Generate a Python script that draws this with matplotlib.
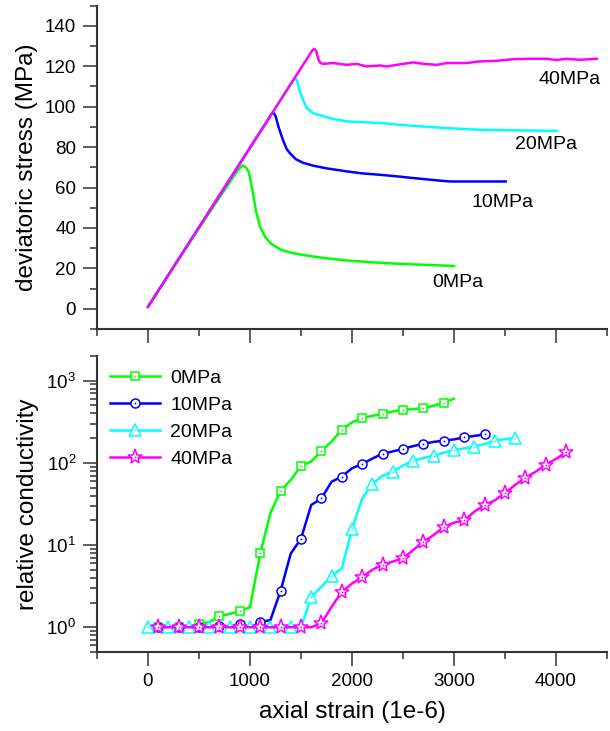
import numpy as np
import matplotlib
matplotlib.use("Agg")
import matplotlib.pyplot as plt
from matplotlib.ticker import MultipleLocator, LogLocator, NullFormatter
from matplotlib.legend_handler import HandlerTuple

plt.rcParams["font.family"] = ["Liberation Sans", "DejaVu Sans"]
plt.rcParams["mathtext.default"] = "regular"

LABELS = ["0MPa", "10MPa", "20MPa", "40MPa"]
COLORS = ["#00ff00", "#0000ff", "#00ffff", "#ff00ff"]
MARKERS = ["s", "o", "^", "*"]
MSIZE = [5.8, 6.5, 8.5, 11]

# ---- stress-strain curves (top) ----
s0_x = [0, 300, 600, 800, 880, 925, 960, 985, 1000, 1030, 1060, 1100, 1150, 1200, 1300,
        1400, 1500, 1700, 1950, 2200, 2450, 2700, 3000]
s0_y = [1, 24.5, 47.5, 62.5, 68.5, 70.9, 70, 68, 65, 57, 48, 40.5, 35.5, 32.5, 29.3,
        27.8, 26.8, 25.3, 23.9, 23, 22.3, 21.8, 21.2]
s10_x = [0, 1180, 1210, 1230, 1250, 1280, 1320, 1360, 1392, 1450, 1523, 1621, 1750, 1948,
         2100, 2275, 2450, 2600, 2863, 2961, 3200, 3507]
s10_y = [1, 93.8, 96.3, 97, 95.5, 90, 84, 79, 77, 74, 72.2, 70.8, 69.5, 68,
         67, 66.3, 65.5, 64.7, 63.4, 63, 63, 63]
s20_x = [0, 1420, 1441, 1460, 1490, 1523, 1556, 1621, 1784, 1948, 2275, 2601, 2928, 3255, 4007]
s20_y = [1, 112.8, 114.2, 113, 107.5, 103, 99.3, 96.8, 94.3, 92.7, 91.9, 90.5, 89.4, 88.6, 88]
s40_x = [0, 1580, 1610, 1630, 1650, 1670, 1690, 1719, 1817, 1948, 2046, 2144, 2275, 2340,
         2438, 2601, 2699, 2830, 2928, 3124, 3255, 3418, 3582, 3745, 3909, 4007, 4105,
         4235, 4399]
s40_y = [1, 125.4, 127.8, 128.6, 127.5, 123.5, 121.6, 121.2, 121.6, 120.7, 121.2, 119.9,
         120.4, 119.9, 120.7, 121.9, 121.2, 120.7, 121.6, 121.6, 122.4, 122.7, 123.5,
         123.7, 123.7, 123.1, 123.7, 123.2, 123.7]
label_pos = [(2784, 12.9), (3176, 52.5), (3598, 81.2), (3824, 113.3)]

# ---- relative conductivity (bottom), every 100 microstrain ----
c0_x = list(range(100, 3100, 100))
c0_y = [1.0, 1.0, 1.0, 1.0, 1.1, 1.15, 1.37, 1.45, 1.58, 1.75, 7.9, 24.4, 46, 62, 92, 104,
        140, 182, 253, 311, 351, 374, 396, 423, 443, 452, 464, 495, 543, 603]
c10_x = list(range(100, 3400, 100))
c10_y = [1.0, 1.0, 1.0, 1.0, 1.0, 1.0, 1.05, 1.0, 1.1, 0.98, 1.16, 1.22, 2.77, 7.9, 11.9,
         30.7, 37, 59, 68, 86, 97, 113, 129, 138, 148, 160, 171, 180, 187, 193, 205, 213, 222]
c20_x = list(range(0, 3700, 100))
c20_y = [1.0] * 16 + [2.34, 3.1, 4.2, 5.2, 15.5, 37, 55.5, 70, 78, 93, 106, 115, 122,
                      133, 144, 150, 158, 170, 187, 195, 200]
c40_x = list(range(100, 4200, 100))
c40_y = [1.0, 1.0, 1.0, 1.0, 1.0, 1.0, 1.02, 1.0, 1.0, 1.0, 1.0, 1.0, 1.0, 1.0, 1.0, 1.0,
         1.12, 1.77, 2.7, 3.4, 4.1, 5.0, 5.8, 6.3, 6.9, 8.7, 11, 13.2, 16.7, 18.7, 20,
         25.5, 30.7, 35, 43, 54, 66, 78, 95, 112, 134]

stress = [(s0_x, s0_y), (s10_x, s10_y), (s20_x, s20_y), (s40_x, s40_y)]
cond = [(c0_x, c0_y), (c10_x, c10_y), (c20_x, c20_y), (c40_x, c40_y)]

SPINE = "#333333"

fig = plt.figure(figsize=(6.1, 7.31), dpi=100)
ax1 = fig.add_axes([0.159, 0.5499, 0.836, 0.4424])
ax2 = fig.add_axes([0.159, 0.1081, 0.836, 0.4049])


def style(ax):
    for side in ["top", "right"]:
        ax.spines[side].set_visible(False)
    for side in ["left", "bottom"]:
        ax.spines[side].set_color(SPINE)
        ax.spines[side].set_linewidth(1.5)
    ax.tick_params(which="major", direction="out", length=10, width=1.1,
                   color=SPINE, labelsize=13.5, pad=5)
    ax.tick_params(which="minor", direction="out", length=5, width=1.1, color=SPINE)
    ax.set_xlim(-500, 4500)
    ax.xaxis.set_major_locator(MultipleLocator(1000))
    ax.xaxis.set_minor_locator(MultipleLocator(500))


# top panel
style(ax1)
for (x, y), c, lab, pos in zip(stress, COLORS, LABELS, label_pos):
    ax1.plot(x, y, color=c, lw=1.8)
    ax1.text(pos[0], pos[1], lab, fontsize=14, va="center", ha="left")
ax1.set_ylim(-10, 150)
ax1.yaxis.set_major_locator(MultipleLocator(20))
ax1.yaxis.set_minor_locator(MultipleLocator(10))
ax1.tick_params(axis="x", labelbottom=False)
ax1.set_ylabel("deviatoric stress (MPa)", fontsize=17.5, labelpad=5)

# bottom panel
style(ax2)
handles = []
for (x, y), c, m, ms, lab in zip(cond, COLORS, MARKERS, MSIZE, LABELS):
    ln, = ax2.plot(x, y, color=c, lw=1.8, marker=m, ms=ms, mfc="white", mec=c,
                   mew=1.1, markevery=(0, 2), label=lab)
    dt, = ax2.plot(x, y, ls="none", marker="o", ms=1.3, mfc=c, mec=c, mew=0,
                   markevery=(0, 2))
    handles.append((ln, dt))
ax2.set_yscale("log")
ax2.set_ylim(0.5, 2000)
ax2.yaxis.set_major_locator(LogLocator(base=10, numticks=10))
ax2.yaxis.set_minor_locator(LogLocator(base=10, subs=np.arange(2, 10), numticks=10))
ax2.yaxis.set_minor_formatter(NullFormatter())
ax2.set_ylabel("relative conductivity", fontsize=17.5, labelpad=5)
ax2.set_xlabel("axial strain (1e-6)", fontsize=17.5, labelpad=8)
ax2.legend(handles, LABELS, handler_map={tuple: HandlerTuple(ndivide=1)},
           loc="upper left", bbox_to_anchor=(0.01, 0.98), frameon=False,
           fontsize=14, handlelength=2.6, handletextpad=0.5, labelspacing=0.48,
           borderaxespad=0, numpoints=1)

fig.savefig("out.png", dpi=100)
